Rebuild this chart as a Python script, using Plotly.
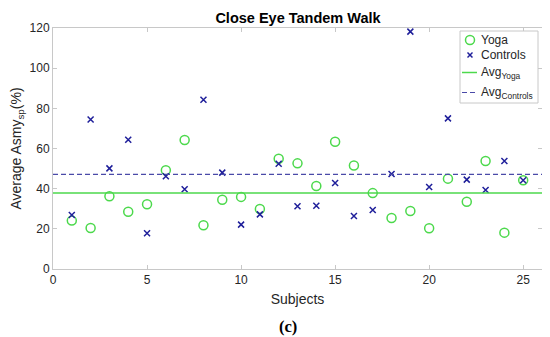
import numpy as np
import plotly.graph_objects as go

subjects = list(range(1, 26))
yoga = [24.1, 20.4, 36.2, 28.5, 32.2, 49.2, 64.2, 21.8, 34.5, 35.9, 29.9, 54.9, 52.6,
        41.3, 63.4, 51.5, 37.8, 25.4, 28.9, 20.3, 45.0, 33.5, 53.8, 18.1, 44.2]
controls = [26.9, 74.4, 50.1, 64.4, 17.8, 46.2, 39.7, 84.3, 48.0, 22.1, 27.2, 52.4, 31.2,
            31.5, 42.8, 26.4, 29.4, 47.3, 118.2, 40.8, 75.0, 44.5, 39.3, 53.8, 44.2]
x_ticks = [0, 5, 10, 15, 20, 25]
y_ticks = [0, 20, 40, 60, 80, 100, 120]
legend_labels = ["Yoga", "Controls", "Avg<sub>Yoga</sub>", "Avg<sub>Controls</sub>"]

avg_yoga = float(np.mean(yoga))
avg_controls = float(np.mean(controls))

green = "#4cd94c"
navy = "#1f1f9a"
dash_col = "#4a4aa8"
font = "Liberation Sans, Arial, sans-serif"
txt = "#262626"

W, H = 550, 337
OFF = 8  # page body margin
# desired plot area in page pixels
PX0, PX1, PY0, PY1 = 53, 542, 28, 269
L, T = PX0 - OFF, PY0 - OFF
pw, ph = PX1 - PX0, PY1 - PY0
R, B = W - L - pw, H - T - ph


def px(xp):
    return (xp - PX0) / pw


def py(yp):
    return (PY1 - yp) / ph


fig = go.Figure()
fig.add_trace(go.Scatter(x=subjects, y=yoga, mode="markers", name=legend_labels[0],
                         marker=dict(symbol="circle-open", size=9, color=green,
                                     line=dict(width=1.5, color=green))))
fig.add_trace(go.Scatter(x=subjects, y=controls, mode="markers", name=legend_labels[1],
                         marker=dict(symbol="x-thin-open", size=6, color=navy,
                                     line=dict(width=1.5, color=navy))))
fig.add_trace(go.Scatter(x=[0, 26], y=[avg_yoga, avg_yoga], mode="lines",
                         name=legend_labels[2], line=dict(color=green, width=1.5)))
fig.add_trace(go.Scatter(x=[0, 26], y=[avg_controls, avg_controls], mode="lines",
                         name=legend_labels[3],
                         line=dict(color=dash_col, width=1.1, dash="5px,3px")))

axis_common = dict(showline=True, linecolor="#c8c8c8", linewidth=1, mirror="ticks",
                   ticks="inside", ticklen=4, tickcolor="#c8c8c8", showgrid=False,
                   zeroline=False, automargin=False,
                   tickfont=dict(size=12, color=txt, family=font))
fig.update_xaxes(range=[0, 26], tickvals=x_ticks,
                 title=dict(text="Subjects", font=dict(size=14, color=txt, family=font),
                            standoff=7), **axis_common)
fig.update_yaxes(range=[0, 120], tickvals=y_ticks,
                 title=dict(text="Average Asmy<sub>sp</sub>(%)",
                            font=dict(size=14, color=txt, family=font), standoff=5),
                 **axis_common)

# custom legend box (MATLAB style, compact)
shapes = [dict(type="rect", xref="paper", yref="paper", x0=px(460), x1=px(538),
               y0=py(103), y1=py(31), line=dict(color="#c8c8c8", width=1),
               fillcolor="white", layer="above")]
shapes.append(dict(type="circle", xref="paper", yref="paper",
                   x0=px(465.5), x1=px(474.5), y0=py(44.5), y1=py(35.5),
                   line=dict(color=green, width=1.5), layer="above"))
shapes.append(dict(type="line", xref="paper", yref="paper", x0=px(467.5), x1=px(472.5),
                   y0=py(52.5), y1=py(57.5), line=dict(color=navy, width=1.5), layer="above"))
shapes.append(dict(type="line", xref="paper", yref="paper", x0=px(467.5), x1=px(472.5),
                   y0=py(57.5), y1=py(52.5), line=dict(color=navy, width=1.5), layer="above"))
shapes.append(dict(type="line", xref="paper", yref="paper", x0=px(462), x1=px(477),
                   y0=py(72.5), y1=py(72.5), line=dict(color=green, width=1.5), layer="above"))
shapes.append(dict(type="line", xref="paper", yref="paper", x0=px(462), x1=px(477),
                   y0=py(92.5), y1=py(92.5), line=dict(color=dash_col, width=1.1,
                                                     dash="5px,3px"), layer="above"))

annotations = []
for lbl, yy in zip(legend_labels, [40, 55, 73, 93]):
    annotations.append(dict(text=lbl, x=px(479), xref="paper", y=py(yy), yref="paper",
                            xanchor="left", yanchor="middle", showarrow=False,
                            font=dict(size=12, color=txt, family=font)))
annotations.append(dict(text="<b>(c)</b>", x=px(288), xref="paper", y=py(326), yref="paper",
                        xanchor="center", yanchor="middle", showarrow=False,
                        font=dict(size=16.5, color="black", family="Liberation Serif, serif")))

fig.update_layout(
    width=W, height=H,
    margin=dict(l=L, r=R, t=T, b=B, autoexpand=False),
    paper_bgcolor="white", plot_bgcolor="white",
    title=dict(text="<b>Close Eye Tandem Walk</b>", x=(298 - OFF) / W, xanchor="center",
               y=1 - (17.5 - OFF) / H, yanchor="middle",
               font=dict(size=14.5, color="black", family=font)),
    font=dict(family=font),
    showlegend=False,
    shapes=shapes,
    annotations=annotations,
)

fig.write_html("out.html")
